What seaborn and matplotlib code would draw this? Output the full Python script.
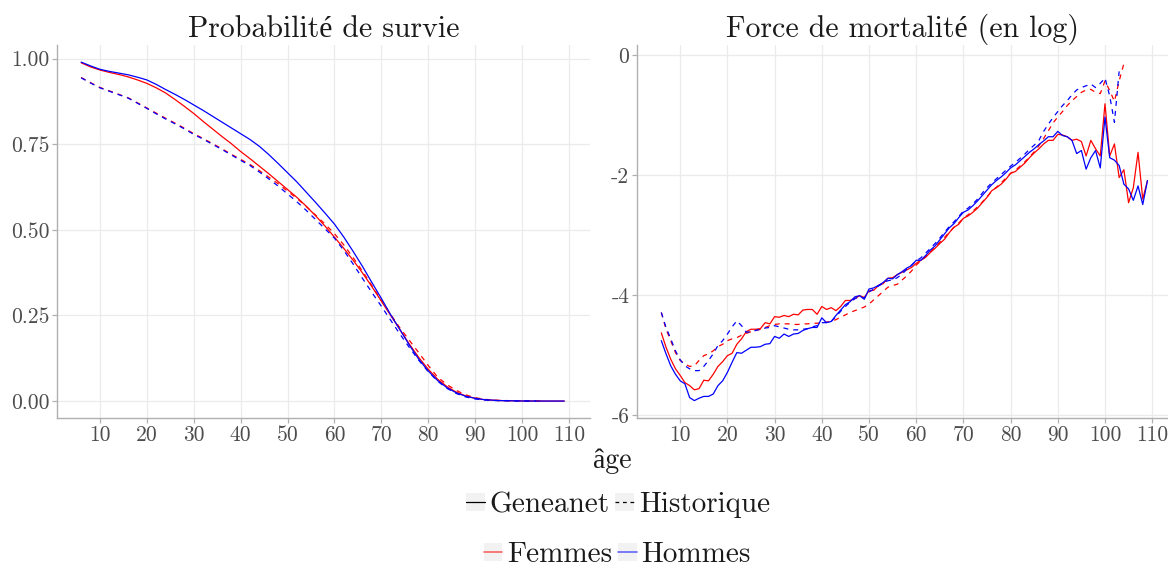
import numpy as np
import pandas as pd
import matplotlib
matplotlib.use("Agg")
import matplotlib.pyplot as plt
import seaborn as sns
from matplotlib.lines import Line2D
from matplotlib.patches import Patch
from matplotlib.ticker import FixedLocator, FixedFormatter

# ---------------- data ----------------
surv_ages_gen = [6, 8, 10, 12, 14, 16, 18, 20, 22, 24, 26, 28, 30, 32, 34, 36, 38, 40, 42, 44, 46, 48,
                 50, 52, 54, 56, 58, 60, 62, 64, 66, 68, 70, 72, 74, 76, 78, 80, 82, 84, 86, 88, 90, 92,
                 95, 100, 105, 109]
surv_gen_hommes = [0.990, 0.979, 0.969, 0.963, 0.958, 0.953, 0.946, 0.938, 0.925, 0.910, 0.896, 0.881,
                   0.865, 0.849, 0.832, 0.815, 0.798, 0.781, 0.764, 0.744, 0.720, 0.694, 0.667, 0.640,
                   0.610, 0.580, 0.549, 0.517, 0.479, 0.437, 0.393, 0.346, 0.300, 0.252, 0.208, 0.163,
                   0.122, 0.088, 0.060, 0.039, 0.024, 0.014, 0.008, 0.004, 0.0015, 0.0002, 0.0, 0.0]
surv_gen_femmes = [0.988, 0.976, 0.967, 0.960, 0.954, 0.947, 0.938, 0.928, 0.915, 0.900, 0.881, 0.861,
                   0.840, 0.817, 0.795, 0.773, 0.752, 0.729, 0.708, 0.686, 0.664, 0.641, 0.618, 0.595,
                   0.569, 0.541, 0.511, 0.479, 0.446, 0.411, 0.374, 0.334, 0.292, 0.250, 0.208, 0.166,
                   0.127, 0.093, 0.064, 0.042, 0.026, 0.015, 0.008, 0.004, 0.0015, 0.0002, 0.0, 0.0]
surv_ages_hist_f = [6, 8, 10, 12, 14, 16, 18, 20, 22, 24, 26, 28, 30, 32, 34, 36, 38, 40, 42, 44, 46, 48,
                    50, 52, 54, 56, 58, 60, 62, 64, 66, 68, 70, 72, 74, 76, 78, 80, 82, 84, 86, 88, 90, 92,
                    95, 100, 104]
surv_hist_femmes = [0.945, 0.930, 0.916, 0.906, 0.896, 0.886, 0.871, 0.856, 0.841, 0.826, 0.812, 0.797,
                    0.781, 0.767, 0.752, 0.737, 0.721, 0.706, 0.691, 0.673, 0.654, 0.635, 0.613, 0.592,
                    0.568, 0.543, 0.517, 0.489, 0.456, 0.419, 0.379, 0.337, 0.294, 0.253, 0.213, 0.177,
                    0.141, 0.104, 0.070, 0.048, 0.031, 0.018, 0.010, 0.005, 0.002, 0.0003, 0.0]
surv_ages_hist_h = [6, 8, 10, 12, 14, 16, 18, 20, 22, 24, 26, 28, 30, 32, 34, 36, 38, 40, 42, 44, 46, 48,
                    50, 52, 54, 56, 58, 60, 62, 64, 66, 68, 70, 72, 74, 76, 78, 80, 82, 84, 86, 88, 90, 92,
                    95, 100, 103]
surv_hist_hommes = [0.944, 0.929, 0.915, 0.905, 0.895, 0.885, 0.870, 0.855, 0.839, 0.824, 0.810, 0.795,
                    0.779, 0.765, 0.750, 0.735, 0.719, 0.703, 0.688, 0.669, 0.649, 0.628, 0.605, 0.582,
                    0.557, 0.530, 0.503, 0.476, 0.440, 0.400, 0.358, 0.317, 0.277, 0.236, 0.195, 0.156,
                    0.119, 0.086, 0.058, 0.037, 0.022, 0.012, 0.006, 0.003, 0.001, 0.0001, 0.0]

mort_ages_gen = list(range(6, 110))
mort_gen_femmes = [
    -4.63, -4.87, -5.07, -5.23, -5.34, -5.46, -5.51, -5.58, -5.56, -5.42,
    -5.43, -5.32, -5.19, -5.11, -5.01, -4.97, -4.82, -4.73, -4.61, -4.57,
    -4.57, -4.56, -4.46, -4.48, -4.36, -4.37, -4.34, -4.36, -4.32, -4.33,
    -4.25, -4.24, -4.24, -4.32, -4.19, -4.24, -4.21, -4.26, -4.19, -4.09,
    -4.09, -4.06, -4.01, -4.04, -3.93, -3.92, -3.84, -3.81, -3.72, -3.71,
    -3.66, -3.62, -3.58, -3.54, -3.47, -3.42, -3.37, -3.29, -3.22, -3.14,
    -3.07, -2.96, -2.87, -2.82, -2.72, -2.68, -2.62, -2.55, -2.46, -2.37,
    -2.26, -2.21, -2.15, -2.07, -1.97, -1.94, -1.87, -1.80, -1.71, -1.63,
    -1.56, -1.48, -1.42, -1.42, -1.32, -1.33, -1.36, -1.42, -1.40, -1.44,
    -1.68, -1.42, -1.56, -1.68, -0.81, -1.68, -1.48, -2.04, -1.91, -2.46,
    -2.21, -1.62, -2.40, -2.09]
mort_gen_hommes = [
    -4.76, -4.98, -5.18, -5.32, -5.43, -5.48, -5.71, -5.76, -5.72, -5.69,
    -5.69, -5.65, -5.51, -5.43, -5.29, -5.12, -4.96, -4.97, -4.92, -4.87,
    -4.87, -4.86, -4.82, -4.81, -4.69, -4.72, -4.65, -4.69, -4.65, -4.64,
    -4.59, -4.56, -4.54, -4.54, -4.38, -4.46, -4.44, -4.34, -4.25, -4.16,
    -4.11, -4.03, -4.01, -4.07, -3.90, -3.88, -3.84, -3.79, -3.72, -3.73,
    -3.66, -3.61, -3.55, -3.51, -3.42, -3.42, -3.34, -3.25, -3.18, -3.08,
    -2.98, -2.88, -2.81, -2.71, -2.62, -2.58, -2.51, -2.43, -2.34, -2.25,
    -2.16, -2.09, -2.03, -1.96, -1.88, -1.83, -1.76, -1.69, -1.62, -1.56,
    -1.49, -1.43, -1.36, -1.36, -1.27, -1.34, -1.36, -1.42, -1.64, -1.59,
    -1.90, -1.71, -1.59, -1.88, -1.03, -1.71, -1.75, -1.84, -2.15, -2.23,
    -2.42, -2.18, -2.49, -2.09]
mort_ages_hist_f = list(range(6, 105))
mort_hist_femmes = [
    -4.29, -4.57, -4.76, -4.96, -5.09, -5.15, -5.19, -5.18, -5.09, -5.01,
    -4.98, -4.93, -4.86, -4.82, -4.76, -4.73, -4.71, -4.67, -4.64, -4.61,
    -4.59, -4.57, -4.54, -4.51, -4.49, -4.48, -4.48, -4.48, -4.49, -4.49,
    -4.48, -4.48, -4.47, -4.47, -4.46, -4.45, -4.44, -4.41, -4.37, -4.33,
    -4.29, -4.26, -4.23, -4.20, -4.15, -4.08, -4.01, -3.94, -3.87, -3.84,
    -3.82, -3.75, -3.68, -3.60, -3.50, -3.43, -3.36, -3.28, -3.20, -3.12,
    -3.04, -2.95, -2.87, -2.80, -2.72, -2.66, -2.60, -2.53, -2.45, -2.36,
    -2.27, -2.20, -2.13, -2.05, -1.97, -1.92, -1.85, -1.78, -1.70, -1.61,
    -1.51, -1.39, -1.26, -1.13, -1.03, -0.94, -0.84, -0.76, -0.69, -0.62,
    -0.58, -0.57, -0.62, -0.64, -0.43, -0.59, -0.77, -0.43, -0.14]
mort_ages_hist_h = list(range(6, 104))
mort_hist_hommes = [
    -4.29, -4.54, -4.73, -4.93, -5.08, -5.18, -5.23, -5.26, -5.26, -5.19,
    -5.09, -4.98, -4.84, -4.76, -4.65, -4.53, -4.43, -4.51, -4.62, -4.61,
    -4.59, -4.57, -4.55, -4.54, -4.51, -4.53, -4.55, -4.57, -4.58, -4.58,
    -4.57, -4.56, -4.53, -4.51, -4.46, -4.46, -4.44, -4.36, -4.27, -4.19,
    -4.12, -4.06, -4.03, -4.05, -3.95, -3.90, -3.85, -3.80, -3.76, -3.75,
    -3.71, -3.65, -3.57, -3.50, -3.43, -3.38, -3.30, -3.22, -3.14, -3.05,
    -2.95, -2.86, -2.78, -2.69, -2.60, -2.55, -2.48, -2.40, -2.30, -2.21,
    -2.13, -2.06, -1.99, -1.92, -1.85, -1.79, -1.72, -1.65, -1.57, -1.50,
    -1.42, -1.27, -1.15, -1.04, -0.94, -0.84, -0.76, -0.66, -0.58, -0.54,
    -0.51, -0.48, -0.54, -0.47, -0.38, -0.68, -1.12, -0.27]

x_ticks = [10, 20, 30, 40, 50, 60, 70, 80, 90, 100, 110]
x_tick_labels = ["10", "20", "30", "40", "50", "60", "70", "80", "90", "100", "110"]
surv_ticks = [0.0, 0.25, 0.5, 0.75, 1.0]
surv_tick_labels = ["0.00", "0.25", "0.50", "0.75", "1.00"]
mort_ticks = [-6, -4, -2, 0]
mort_tick_labels = ["-6", "-4", "-2", "0"]

sexes = ["Femmes", "Hommes"]
sources = ["Geneanet", "Historique"]
title_left = "Probabilité de survie"
title_right = "Force de mortalité (en log)"
xlabel = "âge"


def frame(ages, vals, sexe, source):
    return pd.DataFrame({"age": ages, "val": vals, "sexe": sexe, "source": source})


df_surv = pd.concat([
    frame(surv_ages_gen, surv_gen_femmes, "Femmes", "Geneanet"),
    frame(surv_ages_gen, surv_gen_hommes, "Hommes", "Geneanet"),
    frame(surv_ages_hist_f, surv_hist_femmes, "Femmes", "Historique"),
    frame(surv_ages_hist_h, surv_hist_hommes, "Hommes", "Historique"),
], ignore_index=True)
df_mort = pd.concat([
    frame(mort_ages_gen, mort_gen_femmes, "Femmes", "Geneanet"),
    frame(mort_ages_gen, mort_gen_hommes, "Hommes", "Geneanet"),
    frame(mort_ages_hist_f, mort_hist_femmes, "Femmes", "Historique"),
    frame(mort_ages_hist_h, mort_hist_hommes, "Hommes", "Historique"),
], ignore_index=True)

# ---------------- style ----------------
sns.set_theme(style="white")
plt.rcParams["font.family"] = ["cmr10", "Liberation Serif", "DejaVu Serif"]
plt.rcParams["axes.unicode_minus"] = False

palette = {"Femmes": "#FF0000", "Hommes": "#0000FF"}
dashes = {"Geneanet": "", "Historique": (4, 4)}
LW = 0.9
GRID = "#EBEBEB"
AXC = "#B0B0B0"
TICKC = "#4D4D4D"

W, H = 1168, 568
fig = plt.figure(figsize=(W / 100, H / 100), dpi=100)
ax1 = fig.add_axes([57 / W, 150 / H, 533 / W, 373 / H])
ax2 = fig.add_axes([637 / W, 150 / H, 531 / W, 373 / H])

sns.lineplot(data=df_surv, x="age", y="val", hue="sexe", style="source",
             palette=palette, dashes=dashes, estimator=None, legend=False,
             linewidth=LW, ax=ax1)
sns.lineplot(data=df_mort, x="age", y="val", hue="sexe", style="source",
             palette=palette, dashes=dashes, estimator=None, legend=False,
             linewidth=LW, ax=ax2)

ax1.set_xlim(0.85, 0.85 + 533 / 4.69)
ax1.set_ylim(-0.0495, 1.04)
ax2.set_xlim(0.85, 0.85 + 531 / 4.72)
ax2.set_ylim(-6.05, 0.17)

for ax, yt, ytl, title in [(ax1, surv_ticks, surv_tick_labels, title_left),
                           (ax2, mort_ticks, mort_tick_labels, title_right)]:
    ax.xaxis.set_major_locator(FixedLocator(x_ticks))
    ax.xaxis.set_major_formatter(FixedFormatter(x_tick_labels))
    ax.yaxis.set_major_locator(FixedLocator(yt))
    ax.yaxis.set_major_formatter(FixedFormatter(ytl))
    ax.grid(True, color=GRID, linewidth=0.9)
    ax.set_axisbelow(True)
    for s in ["top", "right"]:
        ax.spines[s].set_visible(False)
    for s in ["left", "bottom"]:
        ax.spines[s].set_color(AXC)
        ax.spines[s].set_linewidth(1.0)
    ax.tick_params(axis="both", which="major", length=3.5, width=0.9, color=AXC,
                   labelsize=15.5, labelcolor=TICKC, pad=2, bottom=True, left=True)
    ax.set_xlabel("")
    ax.set_ylabel("")
    ax.set_title(title, fontsize=21.5, color="#1A1A1A", pad=6)

fig.text(612 / W, 1 - 461 / H, xlabel, fontsize=20, ha="center", va="center", color="#1A1A1A")

KEYBG = "#F2F2F2"
h_src = [(Patch(facecolor=KEYBG, edgecolor="none"), Line2D([], [], color="black", lw=LW)),
         (Patch(facecolor=KEYBG, edgecolor="none"), Line2D([], [], color="black", lw=LW, dashes=(3, 3)))]
h_sex = [(Patch(facecolor=KEYBG, edgecolor="none"), Line2D([], [], color=palette[s], lw=LW * 1.3, alpha=0.6))
         for s in sexes]

leg_kw = dict(loc="center", ncol=2, frameon=False, fontsize=21, handlelength=0.65,
              handleheight=0.6, handletextpad=0.15, columnspacing=0.2, borderpad=0,
              labelcolor="#1A1A1A")
leg1 = fig.legend(h_src, sources, bbox_to_anchor=(618 / W, 1 - 505 / H), **leg_kw)
leg2 = fig.legend(h_sex, sexes, bbox_to_anchor=(617 / W, 1 - 555 / H), **leg_kw)

fig.savefig("out.png", dpi=100)
